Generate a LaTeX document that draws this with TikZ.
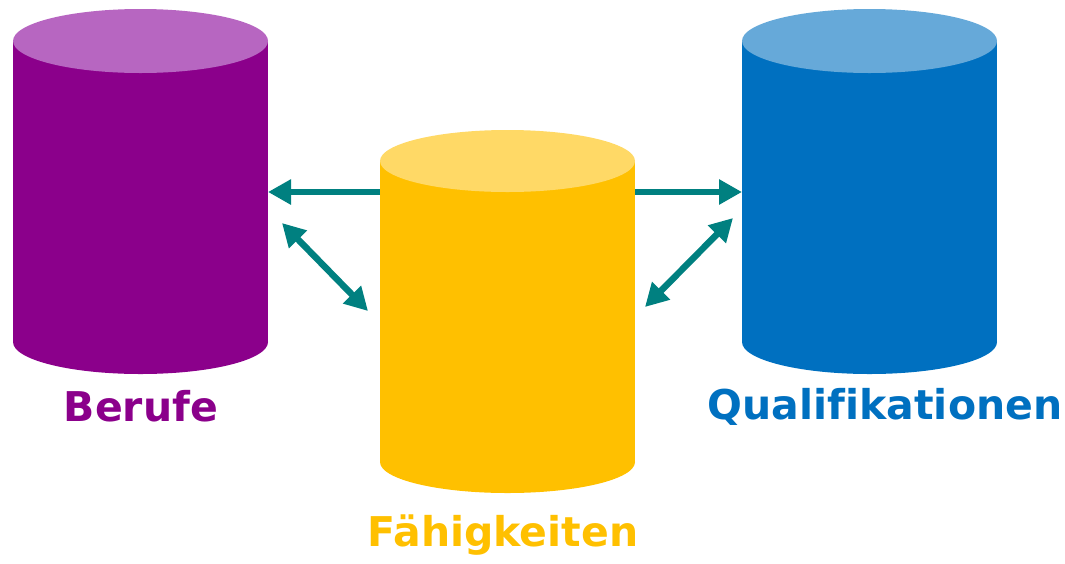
\documentclass[tikz,border=0pt]{standalone}
\usepackage{fontspec}
\setmainfont[Ligatures=NoCommon]{DejaVu Sans}
\usetikzlibrary{arrows.meta}
\definecolor{purpBody}{RGB}{139,0,139}
\definecolor{purpTop}{RGB}{183,102,193}
\definecolor{yelBody}{RGB}{255,192,0}
\definecolor{yelTop}{RGB}{255,217,102}
\definecolor{bluBody}{RGB}{0,112,192}
\definecolor{bluTop}{RGB}{102,169,217}
\definecolor{arrowc}{RGB}{0,128,128}
\newcommand\mycyl[7]{%
  \fill[#6] (#1,#3) rectangle (#2,#4);
  \fill[#6] ({(#1+#2)/2},#4) ellipse ({(#2-#1)/2} and #5);
  \fill[#7] ({(#1+#2)/2},#3) ellipse ({(#2-#1)/2} and #5);
}
\begin{document}
\begin{tikzpicture}[x=1pt,y=-1pt,
  conn/.style={draw=arrowc, line width=6.5pt, -{Triangle[length=23pt,width=24pt]}},
  bconn/.style={draw=arrowc, line width=6.5pt, {Triangle[length=23pt,width=24pt]}-{Triangle[length=23pt,width=24pt]}},
  lbl/.style={font=\bfseries\fontsize{41}{45}\selectfont, anchor=base, inner sep=0pt}]
\useasboundingbox (0,0) rectangle (1065,563);
% cylinders
\mycyl{13}{268}{41}{342}{32}{purpBody}{purpTop}
\mycyl{380}{635}{161}{462}{31}{yelBody}{yelTop}
\mycyl{742}{997}{41}{342}{32}{bluBody}{bluTop}
% connector end points
\coordinate (berR) at (268,192);
\coordinate (faeL) at (380,192);
\coordinate (faeR) at (635,192);
\coordinate (quaL) at (742,192);
\coordinate (berD) at (282,223);
\coordinate (faeDL) at (368,311);
\coordinate (quaD) at (733,218);
\coordinate (faeDR) at (645,307);
% connectors
\draw[conn] (faeL) -- (berR);
\draw[conn] (faeR) -- (quaL);
\draw[bconn] (berD) -- (faeDL);
\draw[bconn] (quaD) -- (faeDR);
% labels
\node[lbl, text=purpBody] (lber) at (141,421) {Berufe};
\node[lbl, text=yelBody] (lfae) at (503,546) {Fähigkeiten};
\node[lbl, text=bluBody] (lqua) at (885,419) {Qualifikationen};
\end{tikzpicture}
\end{document}
